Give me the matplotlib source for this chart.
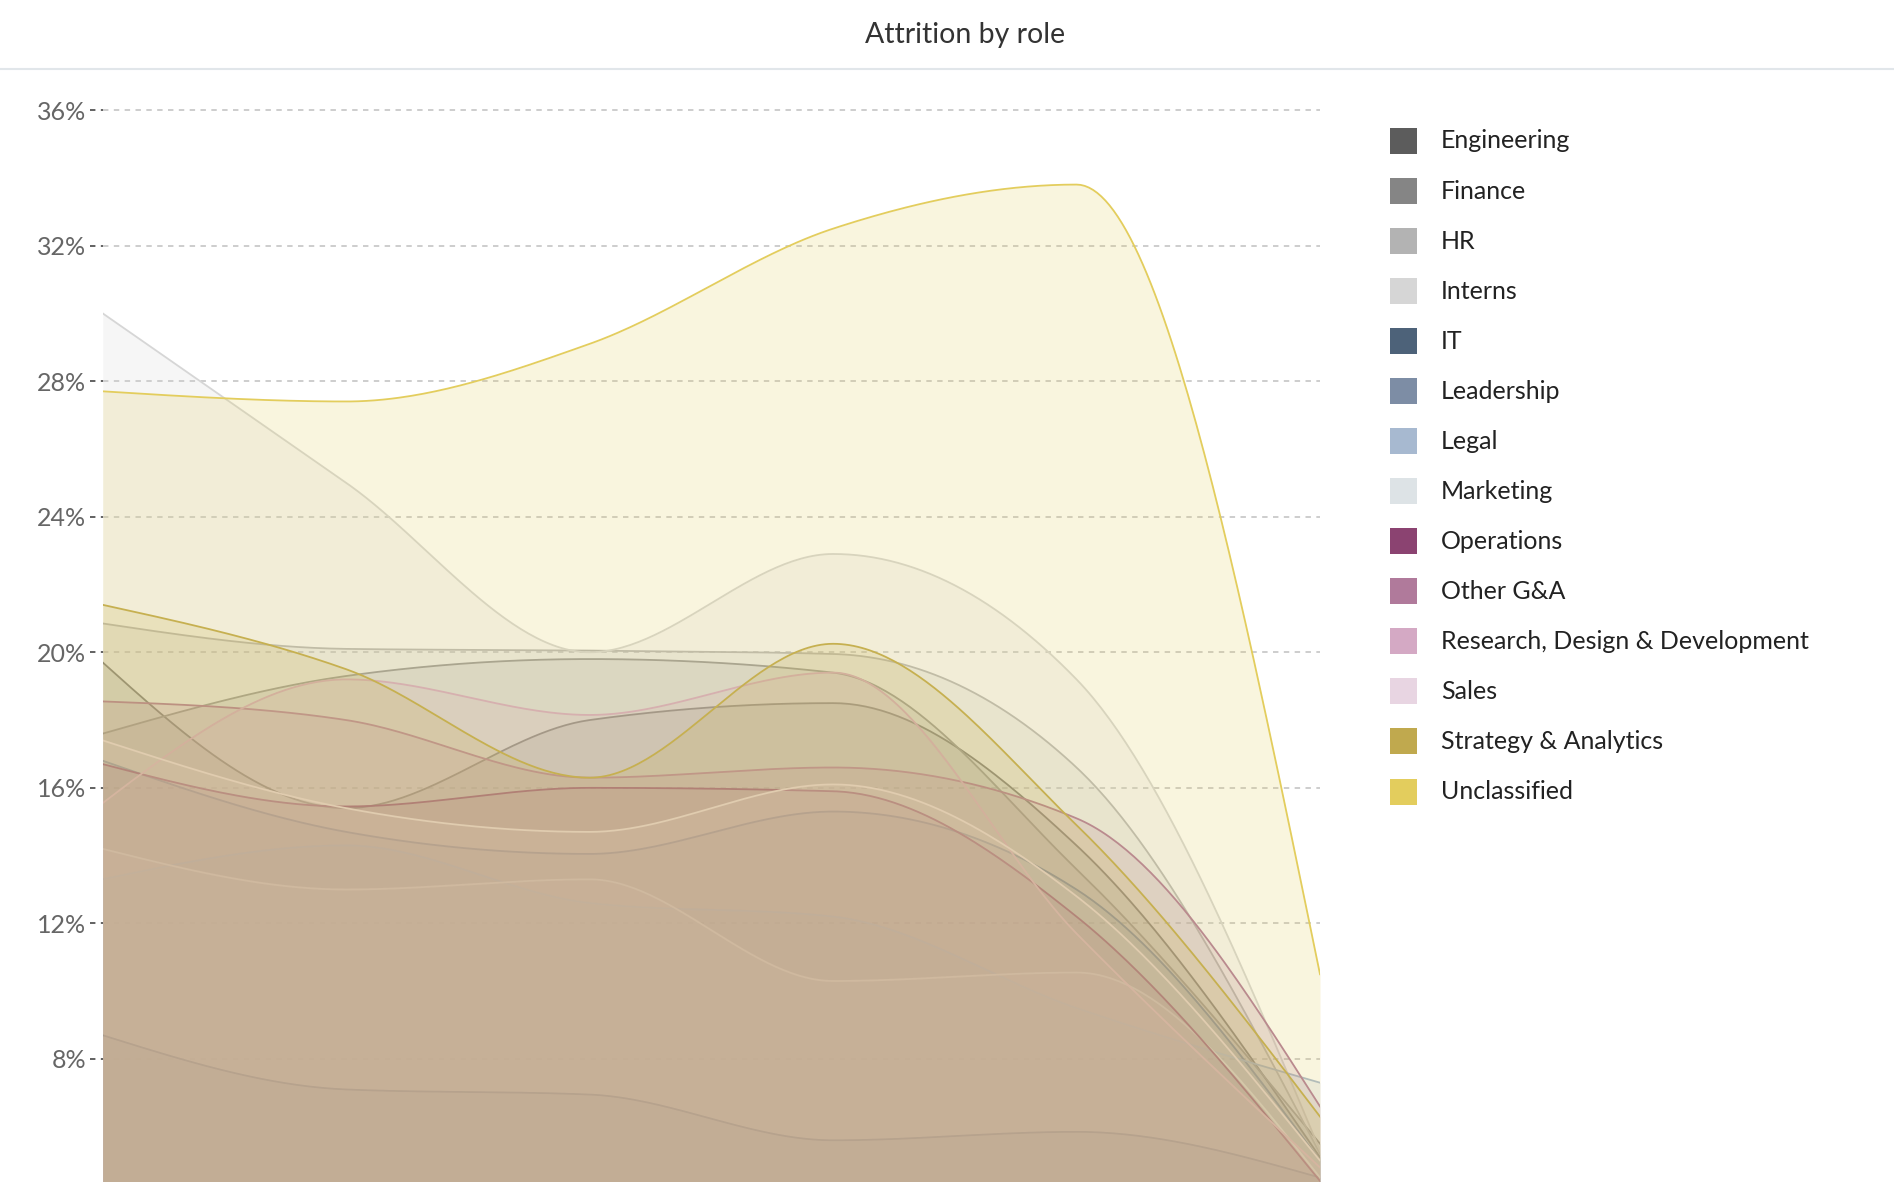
import numpy as np
import matplotlib
matplotlib.use("Agg")
import matplotlib.pyplot as plt
from matplotlib.patches import Rectangle
from matplotlib.lines import Line2D

plt.rcParams['font.family'] = ['Lato', 'DejaVu Sans']

# attrition rate (%) per role over six periods
roles = ["Engineering", "Finance", "HR", "Interns", "IT", "Leadership", "Legal",
         "Marketing", "Operations", "Other G&A", "Research, Design & Development",
         "Sales", "Strategy & Analytics", "Unclassified"]
colors = ["#5c5c5c", "#858585", "#b3b3b3", "#d6d6d6", "#4d6279", "#7d8da5", "#a7b9d0",
          "#dde3e6", "#8b4371", "#b07a9b", "#d4a9c4", "#e8d5e2", "#c0a94e", "#e3cd5d"]

engineering = [19.7, 15.4, 18.0, 18.5, 14.3, 5.1]
finance = [17.6, 19.3, 19.8, 19.4, 13.6, 5.5]
hr = [20.85, 20.1, 20.05, 19.95, 16.6, 5.2]
interns = [30.0, 25.0, 20.0, 22.9, 19.2, 5.3]
it = [8.7, 7.1, 6.95, 5.6, 5.85, 4.5]
leadership = [16.8, 14.7, 14.05, 15.3, 13.0, 5.0]
legal = [13.3, 14.3, 12.6, 12.2, 9.5, 7.3]
marketing = [14.2, 13.0, 13.3, 10.3, 10.55, 4.5]
operations = [16.7, 15.45, 16.0, 15.9, 12.2, 4.4]
other_ga = [18.55, 18.0, 16.3, 16.6, 15.1, 6.6]
rdd = [15.55, 19.2, 18.15, 19.4, 11.7, 4.8]
sales = [17.4, 15.4, 14.7, 16.1, 12.8, 5.0]
strategy = [21.4, 19.5, 16.3, 20.25, 14.9, 6.3]
unclassified = [27.7, 27.4, 29.1, 32.5, 33.8, 10.5]

series = [engineering, finance, hr, interns, it, leadership, legal, marketing,
          operations, other_ga, rdd, sales, strategy, unclassified]
periods = np.arange(6)
yticks = [8, 12, 16, 20, 24, 28, 32, 36]


def monotone(x, y, n=60):
    # d3 curveMonotoneX style cubic hermite
    x = np.asarray(x, float)
    y = np.asarray(y, float)
    h = np.diff(x)
    s = np.diff(y) / h
    m = np.zeros(len(x))
    for i in range(1, len(x) - 1):
        p = (s[i - 1] * h[i] + s[i] * h[i - 1]) / (h[i - 1] + h[i])
        m[i] = (np.sign(s[i - 1]) + np.sign(s[i])) * min(abs(s[i - 1]), abs(s[i]), 0.5 * abs(p))
    m[0] = (3 * s[0] - m[1]) / 2
    m[-1] = (3 * s[-1] - m[-2]) / 2
    xs, ys = [], []
    for i in range(len(x) - 1):
        t = np.linspace(0, 1, n, endpoint=(i == len(x) - 2))
        h00 = 2 * t**3 - 3 * t**2 + 1
        h10 = t**3 - 2 * t**2 + t
        h01 = -2 * t**3 + 3 * t**2
        h11 = t**3 - t**2
        xs.append(x[i] + t * h[i])
        ys.append(h00 * y[i] + h10 * h[i] * m[i] + h01 * y[i + 1] + h11 * h[i] * m[i + 1])
    return np.concatenate(xs), np.concatenate(ys)


W, H = 1894, 1182
fig = plt.figure(figsize=(W / 100, H / 100), dpi=100)

left, right, top = 102.7, 1320, 80
ax = fig.add_axes([left / W, 0, (right - left) / W, (H - top) / H])
ymin = 4.37
ymax = 36 + (110 - top) / 33.87
ax.set_xlim(periods[0], periods[-1])
ax.set_ylim(ymin, ymax)

# gridlines and dashed tick marks
for v in yticks:
    ax.plot([0, 1], [v, v], transform=ax.get_yaxis_transform(), color="#c9c9c9",
            lw=1.3, ls=(0, (3, 3)), zorder=0)
    ax.plot([-0.0105, 0], [v, v], transform=ax.get_yaxis_transform(), color="#555555",
            lw=1.3, ls=(0, (3, 3)), zorder=0, clip_on=False)

for vals, c in zip(series, colors):
    xs, ys = monotone(periods, vals)
    ax.fill_between(xs, ys, 0, color=c, alpha=0.2, lw=0, zorder=2)
    ax.plot(xs, ys, color=c, lw=1.3, zorder=2)

ax.set_yticks(yticks)
ax.set_yticklabels([f"{v}%" for v in yticks], fontsize=18, color="#666666")
ax.tick_params(axis="y", length=0, pad=12)
ax.set_xticks([])
for sp in ax.spines.values():
    sp.set_visible(False)
ax.patch.set_visible(False)

# title and divider
fig.text(965 / W, 1 - 35 / H, "Attrition by role", ha="center", va="center",
         fontsize=20.5, color="#333333")
fig.add_artist(Line2D([0, 1], [1 - 69 / H, 1 - 69 / H], color="#e1e6ea", lw=1.5,
                      transform=fig.transFigure))

# legend
for i, (name, c) in enumerate(zip(roles, colors)):
    yc = 141 + i * 50.04
    fig.add_artist(Rectangle((1390 / W, 1 - (yc + 13) / H), 27 / W, 26 / H,
                             transform=fig.transFigure, color=c, lw=0))
    fig.text(1441 / W, 1 - yc / H, name, ha="left", va="center", fontsize=18,
             color="#222222")

fig.savefig("out.png", dpi=100)
